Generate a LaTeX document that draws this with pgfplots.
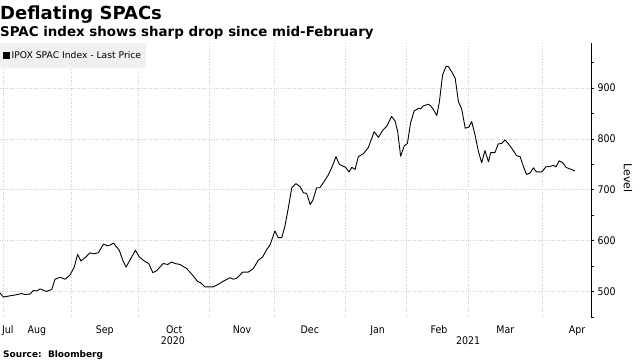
\documentclass[border=0pt]{standalone}
\usepackage{fontspec}
\setmainfont{DejaVu Sans}
\newfontfamily\cond{DejaVu Sans Condensed}
\usepackage{pgfplots}
\pgfplotsset{compat=1.18}
\definecolor{gridc}{HTML}{CFCFCF}
\definecolor{legbg}{HTML}{F0F0F0}
\pgfplotstableread{
t v
-0.9 497
0.1 489
2.2 491.5
3.7 493
5.8 496
6.8 494
8.4 495
9.4 502
10.4 501
11.5 505
13.5 500
15.1 504
16.1 524
17.7 528
19.2 524
20.7 532
22.0 547
23.1 573
24.1 560
25.7 568
26.9 576
28.0 574
29.5 576
31.1 593
32.3 590
33.1 591
34.2 595
36.0 581
37.1 561
38.1 548
39.5 564
41.0 581
42.2 568
43.7 560
45.1 555
46.4 537
47.6 541
49.6 555
51.0 553
52.2 558
53.3 555
54.8 553
56.9 545
58.7 532
60.2 520
61.2 517
62.5 509
65.1 509
67.2 516
68.4 521
70.3 527
71.3 524
72.4 526
74.2 538
75.9 538
77.5 545
79.0 561
80.4 568
81.6 582
82.7 592
84.2 619
85.2 606
86.3 606
87.3 629
88.3 663
89.4 704
90.7 712
92.0 706
93.0 694
94.0 693
95.1 671
95.9 679
97.1 704
98.1 704
99.4 716
100.7 729
101.8 744
103.1 765
104.1 750
105.4 746
106.1 744
107.1 735
108.0 744
109.0 740
110.0 765
111.6 771
113.1 783
114.9 814
116.2 803
117.6 817
118.8 825
120.3 844
121.4 835
122.2 814
123.1 766
124.2 786
125.2 791
126.2 832
127.3 855
128.6 860
129.3 859
130.1 865
131.7 868
132.4 865
133.2 858
134.3 846
135.1 873
136.1 926
137.2 943
137.9 942
138.9 932
140.0 919
141.0 873
142.0 859
143.1 821
144.2 823
145.1 834
146.1 809
147.2 775
148.2 753
149.2 777
150.3 755
151.0 773
152.3 773
153.3 790
154.4 791
155.4 798
156.4 791
158.0 777
159.0 767
160.1 765
161.1 746
162.1 730
163.2 733
164.2 743
165.2 735
166.8 735
168.1 745
169.4 746
170.4 748
171.2 745
172.2 757
173.3 753
174.3 744
175.5 741
177.1 737
}\spac
\begin{document}
\begin{tikzpicture}[x=1pt,y=1pt]
\useasboundingbox (0,0) rectangle (640,360);
\node[anchor=base west, font=\bfseries\fontsize{18}{20}\selectfont, inner sep=0] at (0,341) {Deflating SPACs};
\node[anchor=base west, font=\bfseries\fontsize{13.4}{15}\selectfont, inner sep=0] at (0,324) {SPAC index shows sharp drop since mid-February};
\node[anchor=base west, font=\bfseries\fontsize{9}{10}\selectfont, inner sep=0] at (3,2.5) {Source:\ \ Bloomberg};
\begin{axis}[
  at={(0pt,43.1pt)}, anchor=south west,
  scale only axis, width=591pt, height=273.9pt,
  xmin=-0.93, xmax=182.04, ymin=450, ymax=988.5,
  axis x line*=bottom, axis y line*=right,
  x axis line style={draw=none},
  y axis line style={black, line width=0.6pt},
  xtick={1.5,10.5,31.5,53,74,95,116,135,155.5,177.7},
  xticklabels={Jul,Aug,Sep,Oct,Nov,Dec,Jan,Feb,Mar,Apr},
  minor xtick={0,21,42,64,84,106,125,144,167},
  xtick style={draw=none},
  xminorgrids=true, xmajorgrids=false,
  ytick={500,600,700,800,900},
  minor ytick={450,550,650,750,850,950},
  ymajorgrids=true, yminorgrids=false,
  tick align=outside,
  major tick length=3pt, minor tick length=3pt,
  ytick style={black, line width=0.6pt},
  grid style={gridc, dotted, line width=0.6pt},
  minor grid style={gridc, dotted, line width=0.6pt},
  tick label style={font=\cond\fontsize{10.5}{12}\selectfont},
  /pgf/number format/assume math mode=true,
  xticklabel style={anchor=base, yshift=-14pt},
  yticklabel style={anchor=west},
  ylabel={Level},
  every axis y label/.style={at={(axis description cs:1,0.5)}, xshift=37pt, yshift=2pt, rotate=-90, anchor=center, font=\fontsize{11}{13}\selectfont},
  legend style={at={(0,1)}, anchor=north west, fill=legbg, draw=none,
    font=\fontsize{9.2}{11}\selectfont, inner xsep=3pt, inner ysep=6pt},
  legend cell align=left,
  legend image code/.code={\fill[black] (0pt,-2.8pt) rectangle (5.6pt,2.8pt);},
  clip=false,
]
\addplot[black, line width=0.9pt, line join=round] table[x=t, y=v] {\spac};
\addlegendentry{IPOX SPAC Index - Last Price}
\node[anchor=base, font=\cond\fontsize{10.5}{12}\selectfont] at (axis cs:52.6,450) [yshift=-27.1pt] {2020};
\node[anchor=base, font=\cond\fontsize{10.5}{12}\selectfont] at (axis cs:144,450) [yshift=-27.1pt] {2021};
\end{axis}
\end{tikzpicture}
\end{document}
